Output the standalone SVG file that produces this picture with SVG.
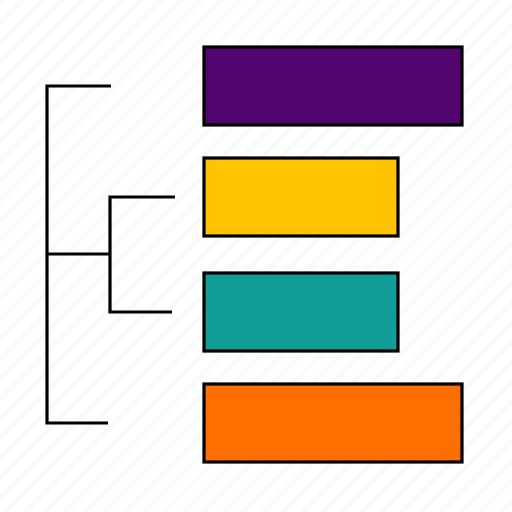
<svg xmlns="http://www.w3.org/2000/svg" width="512" height="512" viewBox="0 0 512 512">
<defs>
<pattern id="stripes" width="14" height="14" patternUnits="userSpaceOnUse" patternTransform="rotate(45)">
<rect width="14" height="14" fill="#ffffff"/>
<rect x="0" y="0" width="4" height="14" fill="#f9f9f9"/>
</pattern>
<style>
.box{stroke:#000;stroke-width:3.2;stroke-linejoin:miter}
.conn{fill:none;stroke:#000;stroke-width:3.2;stroke-linecap:butt;stroke-linejoin:miter}
</style>
</defs>
<rect width="512" height="512" fill="url(#stripes)"/>
<g id="connectors">
<path class="conn" d="M111,86 H47 V423 H108"/>
<path class="conn" d="M47,254 H110"/>
<path class="conn" d="M175,197 H110 V312 H172"/>
</g>
<g id="node-purple"><rect class="box" x="204" y="47" width="258" height="78" fill="#52056e"/></g>
<g id="node-yellow"><rect class="box" x="204" y="158" width="194" height="78" fill="#ffc300"/></g>
<g id="node-teal"><rect class="box" x="204" y="273" width="194" height="78" fill="#119e98"/></g>
<g id="node-orange"><rect class="box" x="204" y="384" width="258" height="78" fill="#ff6f00"/></g>
</svg>
